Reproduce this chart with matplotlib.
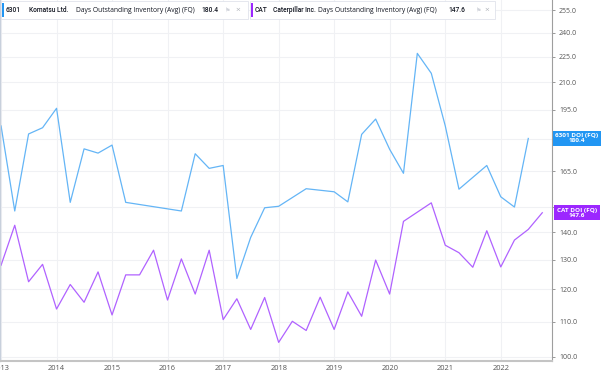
import matplotlib.pyplot as plt
import matplotlib.dates as mdates
import matplotlib.ticker as mticker
from matplotlib.patches import Rectangle
import numpy as np
import pandas as pd

# quarter ends, 2012Q4 .. 2022Q3
quarters = pd.period_range("2012Q4", "2022Q3", freq="Q").end_time.normalize()

komatsu_doi = [186.6, 148.3, 182.6, 185.7, 195.7, 151.8, 175.4, 173.4, 177.2, 151.8,
               None, None, None, 148.3, 173.1, 166.4, 167.7, 123.6, 138.1, 149.6,
               150.2, None, 157.5, None, 156.2, 152.0, 182.4, 190.1, 175.2, 164.2,
               227.0, 215.1, 186.6, 157.3, None, 167.7, 154.1, 149.9, 180.4]
cat_doi = [128.1, 142.7, 122.5, 128.4, 113.8, 121.6, 115.9, 125.8, 112.0, 124.8,
           124.8, 133.4, 116.6, 130.3, 118.5, 133.4, 110.6, 117.0, 107.7, 117.4,
           104.0, 110.1, 107.4, 117.5, 107.7, 119.2, 111.6, 129.9, 118.5, 144.2,
           None, 151.6, 135.2, 132.5, 127.4, 140.6, 127.5, 137.1, 141.1, 147.6]

y_ticks = [100, 110, 120, 130, 140, 150, 165, 180, 195, 210, 225, 240, 255]
hidden_ticks = [150, 180]

blue_line = "#64b5f6"
blue_dark = "#2196f3"
purple_line = "#b062ff"
purple_dark = "#9c27ff"

W, H = 602, 376
fig = plt.figure(figsize=(W / 100, H / 100), dpi=100)
plt.rcParams['font.family'] = ['Open Sans', 'DejaVu Sans']

ax = fig.add_axes([0, 1 - 361 / H, 552 / W, 361 / H])

k = pd.Series(komatsu_doi, index=quarters[:len(komatsu_doi)], dtype=float).dropna()
c = pd.Series(cat_doi, index=quarters[:len(cat_doi)], dtype=float).dropna()
ax.plot(k.index, k.values, color=blue_line, lw=0.9)
ax.plot(c.index, c.values, color=purple_line, lw=0.9)

ax.set_yscale("log")
ax.set_ylim(98.9, 262.2)
ax.set_xlim(pd.Timestamp("2012-12-24"), pd.Timestamp("2022-12-03"))
ax.yaxis.set_major_locator(mticker.FixedLocator(y_ticks))
ax.yaxis.set_minor_locator(mticker.NullLocator())
ax.yaxis.set_major_formatter(mticker.FuncFormatter(
    lambda v, p: "" if round(v) in hidden_ticks else f"{v:.1f}"))
ax.yaxis.tick_right()
ax.tick_params(axis="y", length=2, width=0.6, color="#888888", labelsize=5.0,
               labelcolor="#555555", pad=3)

ax.xaxis.set_major_locator(mdates.YearLocator())
ax.xaxis.set_major_formatter(mdates.DateFormatter("%Y"))
ax.tick_params(axis="x", length=0, labelsize=5.4, labelcolor="#555555", pad=3)

ax.grid(True, color="#f0f1f4", lw=0.8)
ax.set_axisbelow(True)
ax.spines["top"].set_visible(False)
ax.spines["left"].set_color("#c8d0dc")
ax.spines["left"].set_linewidth(1.0)
ax.spines["right"].set_color("#9e9e9e")
ax.spines["right"].set_linewidth(0.8)
ax.spines["bottom"].set_color("#c4c4c4")
ax.spines["bottom"].set_linewidth(1.5)

# last value labels on the price scale
ytr = ax.get_yaxis_transform()
for val, name, col in [(k.values[-1], "6301 DOI (FQ)", blue_dark),
                       (c.values[-1], "CAT DOI (FQ)", purple_dark)]:
    ax.text(1.0 + 25 / 552, val, f"{name}\n{val:.1f}", transform=ytr, ha="center",
            va="center", fontsize=4.6, fontweight="bold", color="white",
            linespacing=1.0, clip_on=False, zorder=5,
            bbox=dict(boxstyle="square,pad=0.4", fc=col, ec="none"))


# legend boxes at the top
def px(x):
    return x / W


def py(y):
    return 1 - y / H


legend = [
    (1, 248, blue_dark, [(6, "6301", "bold"), (29, "Komatsu Ltd.", "bold"),
                         (76.5, "Days Outstanding Inventory (Avg) (FQ)", "normal"),
                         (201, "180.4", "bold")], 225, 235),
    (250, 495, purple_dark, [(255, "CAT", "bold"), (273, "Caterpillar Inc.", "bold"),
                             (318, "Days Outstanding Inventory (Avg) (FQ)", "normal"),
                             (448, "147.6", "bold")], 476, 484),
]
for x0, x1, col, parts, ico, xx in legend:
    fig.add_artist(Rectangle((px(x0), py(19)), px(x1) - px(x0), py(1) - py(19),
                             transform=fig.transFigure, fc="white", ec="#e0e3eb", lw=0.6))
    fig.add_artist(Rectangle((px(x0 + 1), py(17)), px(1.6), py(3) - py(17),
                             transform=fig.transFigure, fc=col, ec="none"))
    for x, s, w in parts:
        if w == "bold":
            fig.text(px(x), py(10), s, fontsize=4.8, fontweight="medium",
                     family=["Roboto", "DejaVu Sans"], color="#131722",
                     ha="left", va="center")
        else:
            fig.text(px(x), py(10), s, fontsize=4.9, color="#131722",
                     ha="left", va="center")
    fig.text(px(ico), py(10), "\u2691", fontsize=4.5, color="#d0d3da", ha="left", va="center",
             family=["DejaVu Sans"])
    fig.text(px(xx), py(10), "\u00d7", fontsize=6, color="#b0b3ba", ha="left", va="center")

fig.savefig("out.png", dpi=100)
